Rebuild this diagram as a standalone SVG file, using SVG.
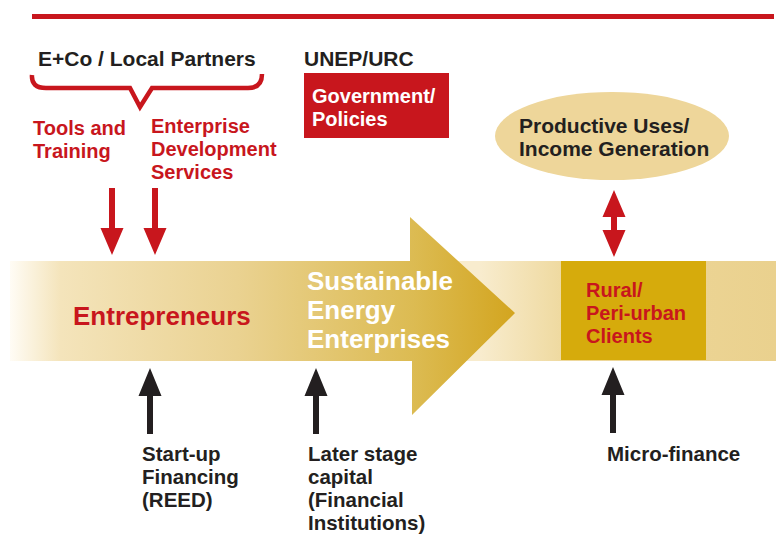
<svg xmlns="http://www.w3.org/2000/svg" width="776" height="547" viewBox="0 0 776 547">
  <defs>
    <linearGradient id="arrowGrad" gradientUnits="userSpaceOnUse" x1="10" y1="0" x2="515" y2="0">
      <stop offset="0" stop-color="#fffcf5"/>
      <stop offset="0.1" stop-color="#f4e4bb"/>
      <stop offset="0.45" stop-color="#ead291"/>
      <stop offset="0.8" stop-color="#dcbb52"/>
      <stop offset="1" stop-color="#d3a51f"/>
    </linearGradient>
    <linearGradient id="bandGrad" gradientUnits="userSpaceOnUse" x1="480" y1="0" x2="776" y2="0">
      <stop offset="0" stop-color="#f8ecce"/>
      <stop offset="0.3" stop-color="#eed89c"/>
      <stop offset="1" stop-color="#ead18e"/>
    </linearGradient>
    <style>
      text { font-family: "Liberation Sans", Arial, sans-serif; font-weight: bold; }
      .dark { fill: #231f20; font-size: 21px; }
      .red { fill: #c8161d; font-size: 20px; }
      .white { fill: #ffffff; font-size: 20px; }
      .big { font-size: 26px; }
      .lbl { fill: #231f20; font-size: 20.5px; }
      .redArrow { fill: #c8161d; }
      .blackArrow { fill: #231f20; }
    </style>
  </defs>

  <rect x="32" y="14" width="742" height="5" fill="#c8161d"/>

  <g id="band">
    <rect x="10" y="261" width="766" height="100" fill="url(#bandGrad)"/>
  </g>

  <g id="sustainable-energy-enterprises">
    <path d="M10,261 L410,261 L410,217 L515,313 L412,415 L412,361 L10,361 Z" fill="url(#arrowGrad)"/>
    <text class="white big" x="307" y="290">Sustainable</text>
    <text class="white big" x="307" y="319">Energy</text>
    <text class="white big" x="307" y="348">Enterprises</text>
  </g>

  <g id="entrepreneurs">
    <text class="red big" x="73" y="325">Entrepreneurs</text>
  </g>

  <g id="eco-local-partners">
    <text class="dark" x="38" y="66">E+Co / Local Partners</text>
    <path d="M32,75 Q31,88 46,88 L130,88 L140,107 L152,88 L248,88 Q262,88 262,74" fill="none" stroke="#c8161d" stroke-width="4.5" stroke-linejoin="miter"/>
  </g>

  <g id="tools-training">
    <text class="red" x="33" y="135">Tools and</text>
    <text class="red" x="33" y="158">Training</text>
  </g>

  <g id="enterprise-development">
    <text class="red" x="151" y="133">Enterprise</text>
    <text class="red" x="151" y="156">Development</text>
    <text class="red" x="151" y="179">Services</text>
  </g>

  <g id="unep-urc">
    <text class="dark" x="304" y="66">UNEP/URC</text>
    <rect x="304" y="73" width="145" height="65" fill="#c8161d"/>
    <text class="white" x="312" y="103">Government/</text>
    <text class="white" x="312" y="126">Policies</text>
  </g>

  <g id="productive-uses">
    <ellipse cx="612" cy="136" rx="117" ry="44" fill="#eed69a"/>
    <text class="dark" x="519" y="133" font-size="20">Productive Uses/</text>
    <text class="dark" x="519" y="156" font-size="20">Income Generation</text>
  </g>

  <g id="rural-clients">
    <rect x="561" y="261" width="145" height="99" fill="#d6ab0c"/>
    <text class="red" x="586" y="297">Rural/</text>
    <text class="red" x="586" y="320">Peri-urban</text>
    <text class="red" x="586" y="343">Clients</text>
  </g>

  <g id="startup-financing">
    <text class="lbl" x="142" y="461">Start-up</text>
    <text class="lbl" x="142" y="484">Financing</text>
    <text class="lbl" x="142" y="507">(REED)</text>
  </g>

  <g id="later-stage-capital">
    <text class="lbl" x="308" y="461">Later stage</text>
    <text class="lbl" x="308" y="484">capital</text>
    <text class="lbl" x="308" y="507">(Financial</text>
    <text class="lbl" x="308" y="530">Institutions)</text>
  </g>

  <g id="micro-finance">
    <text class="lbl" x="607" y="461">Micro-finance</text>
  </g>

  <g id="connectors">
    <path class="redArrow" d="M109,188 L115,188 L115,228 L123.5,228 L112,255 L100.5,228 L109,228 Z"/>
    <path class="redArrow" d="M152,188 L158,188 L158,228 L166.5,228 L155,255 L143.5,228 L152,228 Z"/>
    <path class="redArrow" d="M614,190 L625.5,217 L617,217 L617,230 L625.5,230 L614,257 L602.5,230 L611,230 L611,217 L602.5,217 Z"/>
    <path class="blackArrow" d="M150,368 L161.5,396 L153,396 L153,434 L147,434 L147,396 L138.5,396 Z"/>
    <path class="blackArrow" d="M316,368 L327.5,396 L319,396 L319,434 L313,434 L313,396 L304.5,396 Z"/>
    <path class="blackArrow" d="M613,367 L624.5,395 L616,395 L616,433 L610,433 L610,395 L601.5,395 Z"/>
  </g>
</svg>
